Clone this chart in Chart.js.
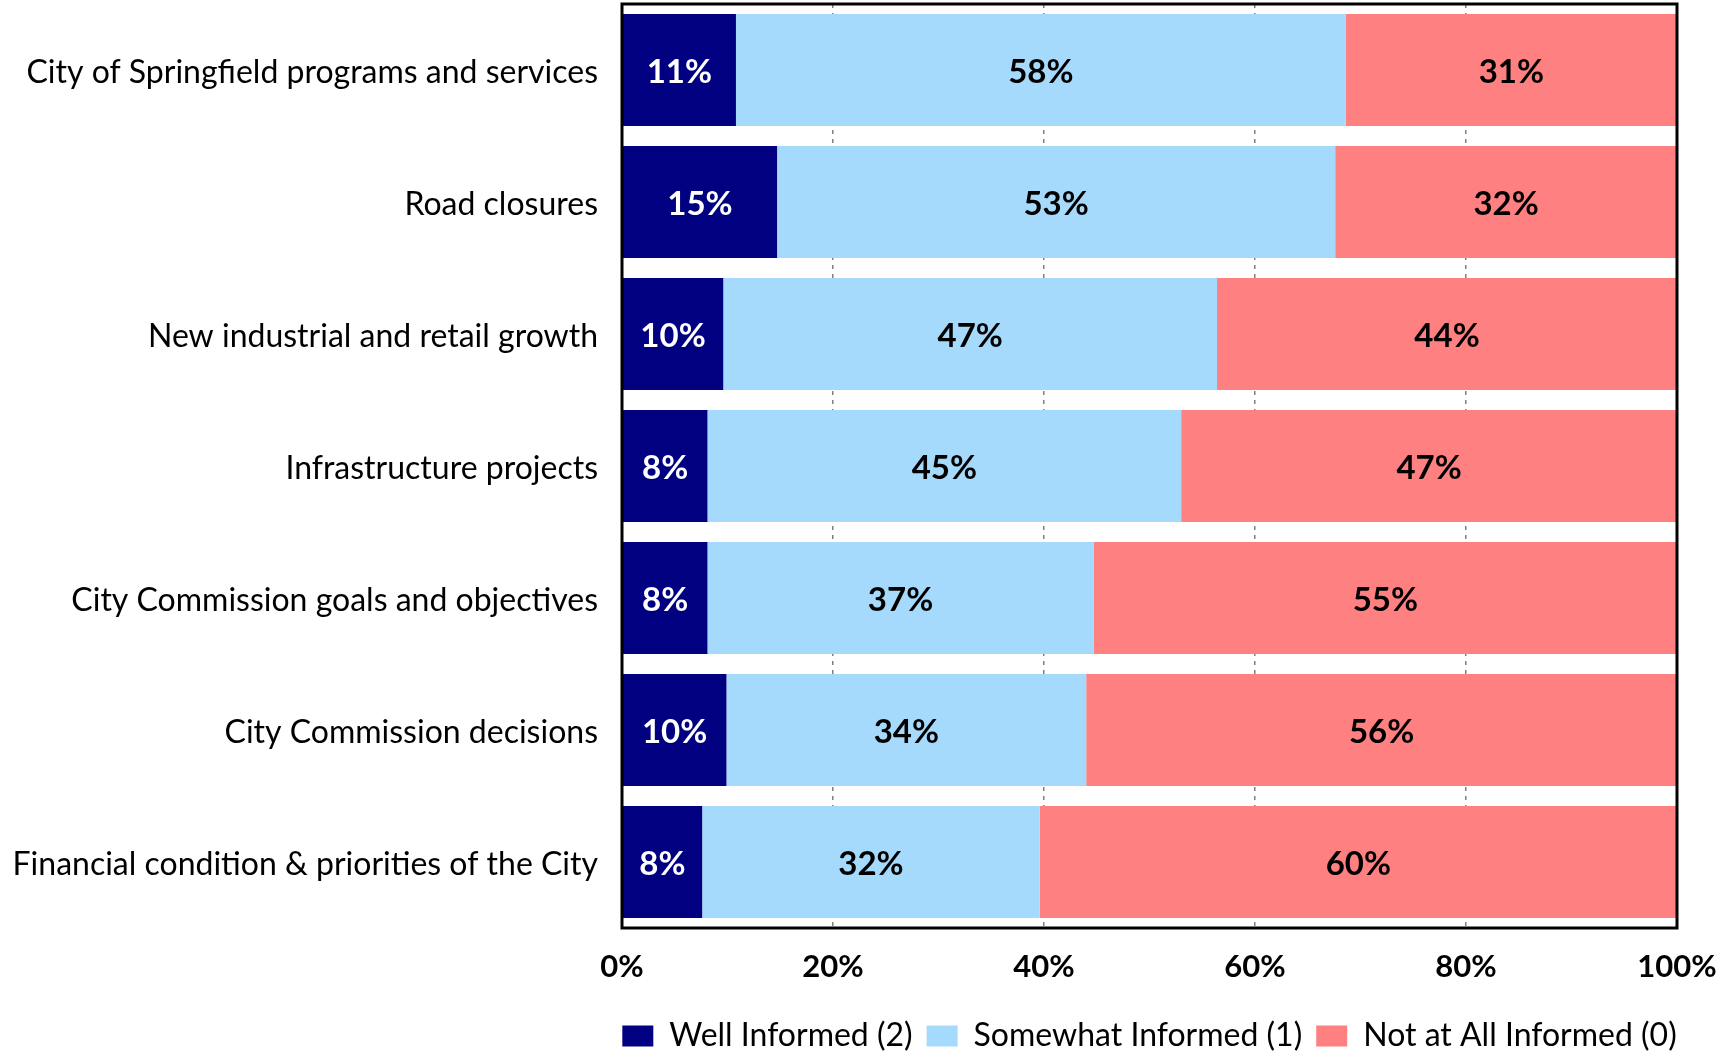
<!DOCTYPE html>
<html>
<head>
<meta charset="utf-8">
<script src="https://cdn.jsdelivr.net/npm/chart.js@4.4.1/dist/chart.umd.min.js"></script>
<style>
  html, body { margin: 0; padding: 0; background: #fff; }
  .chart-box { width: 1718px; height: 1054px; }
</style>
</head>
<body>
<div class="chart-box"><canvas id="chart"></canvas></div>
<script>
const categories = [
  'City of Springfield programs and services',
  'Road closures',
  'New industrial and retail growth',
  'Infrastructure projects',
  'City Commission goals and objectives',
  'City Commission decisions',
  'Financial condition & priorities of the City'
]
const wellInformed = [10.8, 14.7, 9.6, 8.1, 8.1, 9.9, 7.6]
const somewhatInformed = [57.8, 52.9, 46.8, 44.9, 36.6, 34.1, 32.0]
const notInformed = [31.4, 32.4, 43.6, 47.0, 55.3, 56.0, 60.4]
const seriesNames = ['Well Informed (2)', 'Somewhat Informed (1)', 'Not at All Informed (0)']
const xTicks = [0, 20, 40, 60, 80, 100]

Chart.defaults.font.family = 'Lato, "Open Sans", sans-serif'
Chart.defaults.color = '#000'

const labelColors = ['#fff', '#000', '#000']

// percentage labels in the middle of each bar segment + black frame round the plot
const extras = {
  id: 'extras',
  afterLayout(chart) {
    // centre the legend under the plot area instead of the whole canvas
    const lg = chart.legend
    const area = chart.chartArea
    const shift = (area.left + area.right) / 2 - (lg.left + lg.right) / 2
    lg.left += shift
    lg.right += shift
  },
  afterDatasetsDraw(chart) {
    const ctx = chart.ctx
    ctx.save()
    ctx.font = 'bold 33px Lato, "Open Sans", sans-serif'
    ctx.textAlign = 'center'
    ctx.textBaseline = 'middle'
    chart.data.datasets.forEach((ds, i) => {
      const meta = chart.getDatasetMeta(i)
      meta.data.forEach((bar, j) => {
        const { x, y, base } = bar.getProps(['x', 'y', 'base'], true)
        ctx.fillStyle = labelColors[i]
        ctx.fillText(Math.round(ds.data[j]) + '%', (x + base) / 2, y + 2)
      })
    })
    const a = chart.chartArea
    ctx.lineWidth = 3
    ctx.strokeStyle = '#000'
    ctx.strokeRect(a.left, a.top, a.right - a.left, a.bottom - a.top)
    ctx.restore()
  }
}

new Chart(document.getElementById('chart'), {
  type: 'bar',
  data: {
    labels: categories,
    datasets: [
      { label: seriesNames[0], data: wellInformed, backgroundColor: '#000080' },
      { label: seriesNames[1], data: somewhatInformed, backgroundColor: '#A6DAFC' },
      { label: seriesNames[2], data: notInformed, backgroundColor: '#FF8080' }
    ]
  },
  options: {
    indexAxis: 'y',
    responsive: true,
    maintainAspectRatio: false,
    animation: false,
    datasets: {
      bar: { barPercentage: 0.85, categoryPercentage: 1, borderWidth: 0 }
    },
    layout: { padding: { left: 0, right: 41, top: 4, bottom: -8 } },
    scales: {
      x: {
        stacked: true,
        min: 0,
        max: 100,
        afterBuildTicks: scale => { scale.ticks = xTicks.map(v => ({ value: v })) },
        afterFit: scale => {
          scale.height = 78
          scale.paddingLeft = 0
          scale.paddingRight = 0
        },
        ticks: {
          padding: 2,
          font: { size: 31, weight: 'bold' },
          callback: v => v + '%'
        },
        grid: {
          color: '#7f7f7f',
          lineWidth: 1.5,
          drawTicks: true,
          tickLength: 18,
          tickColor: 'rgba(0,0,0,0)'
        },
        border: { display: false, dash: [4, 5] }
      },
      y: {
        stacked: true,
        afterFit: scale => {
          scale.width = 622
          scale.paddingTop = 0
          scale.paddingBottom = 0
        },
        ticks: { padding: 16, labelOffset: 3, font: { size: 32 } },
        grid: { display: false },
        border: { display: false }
      }
    },
    plugins: {
      legend: {
        position: 'bottom',
        labels: {
          boxWidth: 31,
          boxHeight: 21,
          padding: 14,
          font: { size: 32 }
        }
      },
      tooltip: { enabled: false }
    }
  },
  plugins: [extras]
})
</script>
</body>
</html>
